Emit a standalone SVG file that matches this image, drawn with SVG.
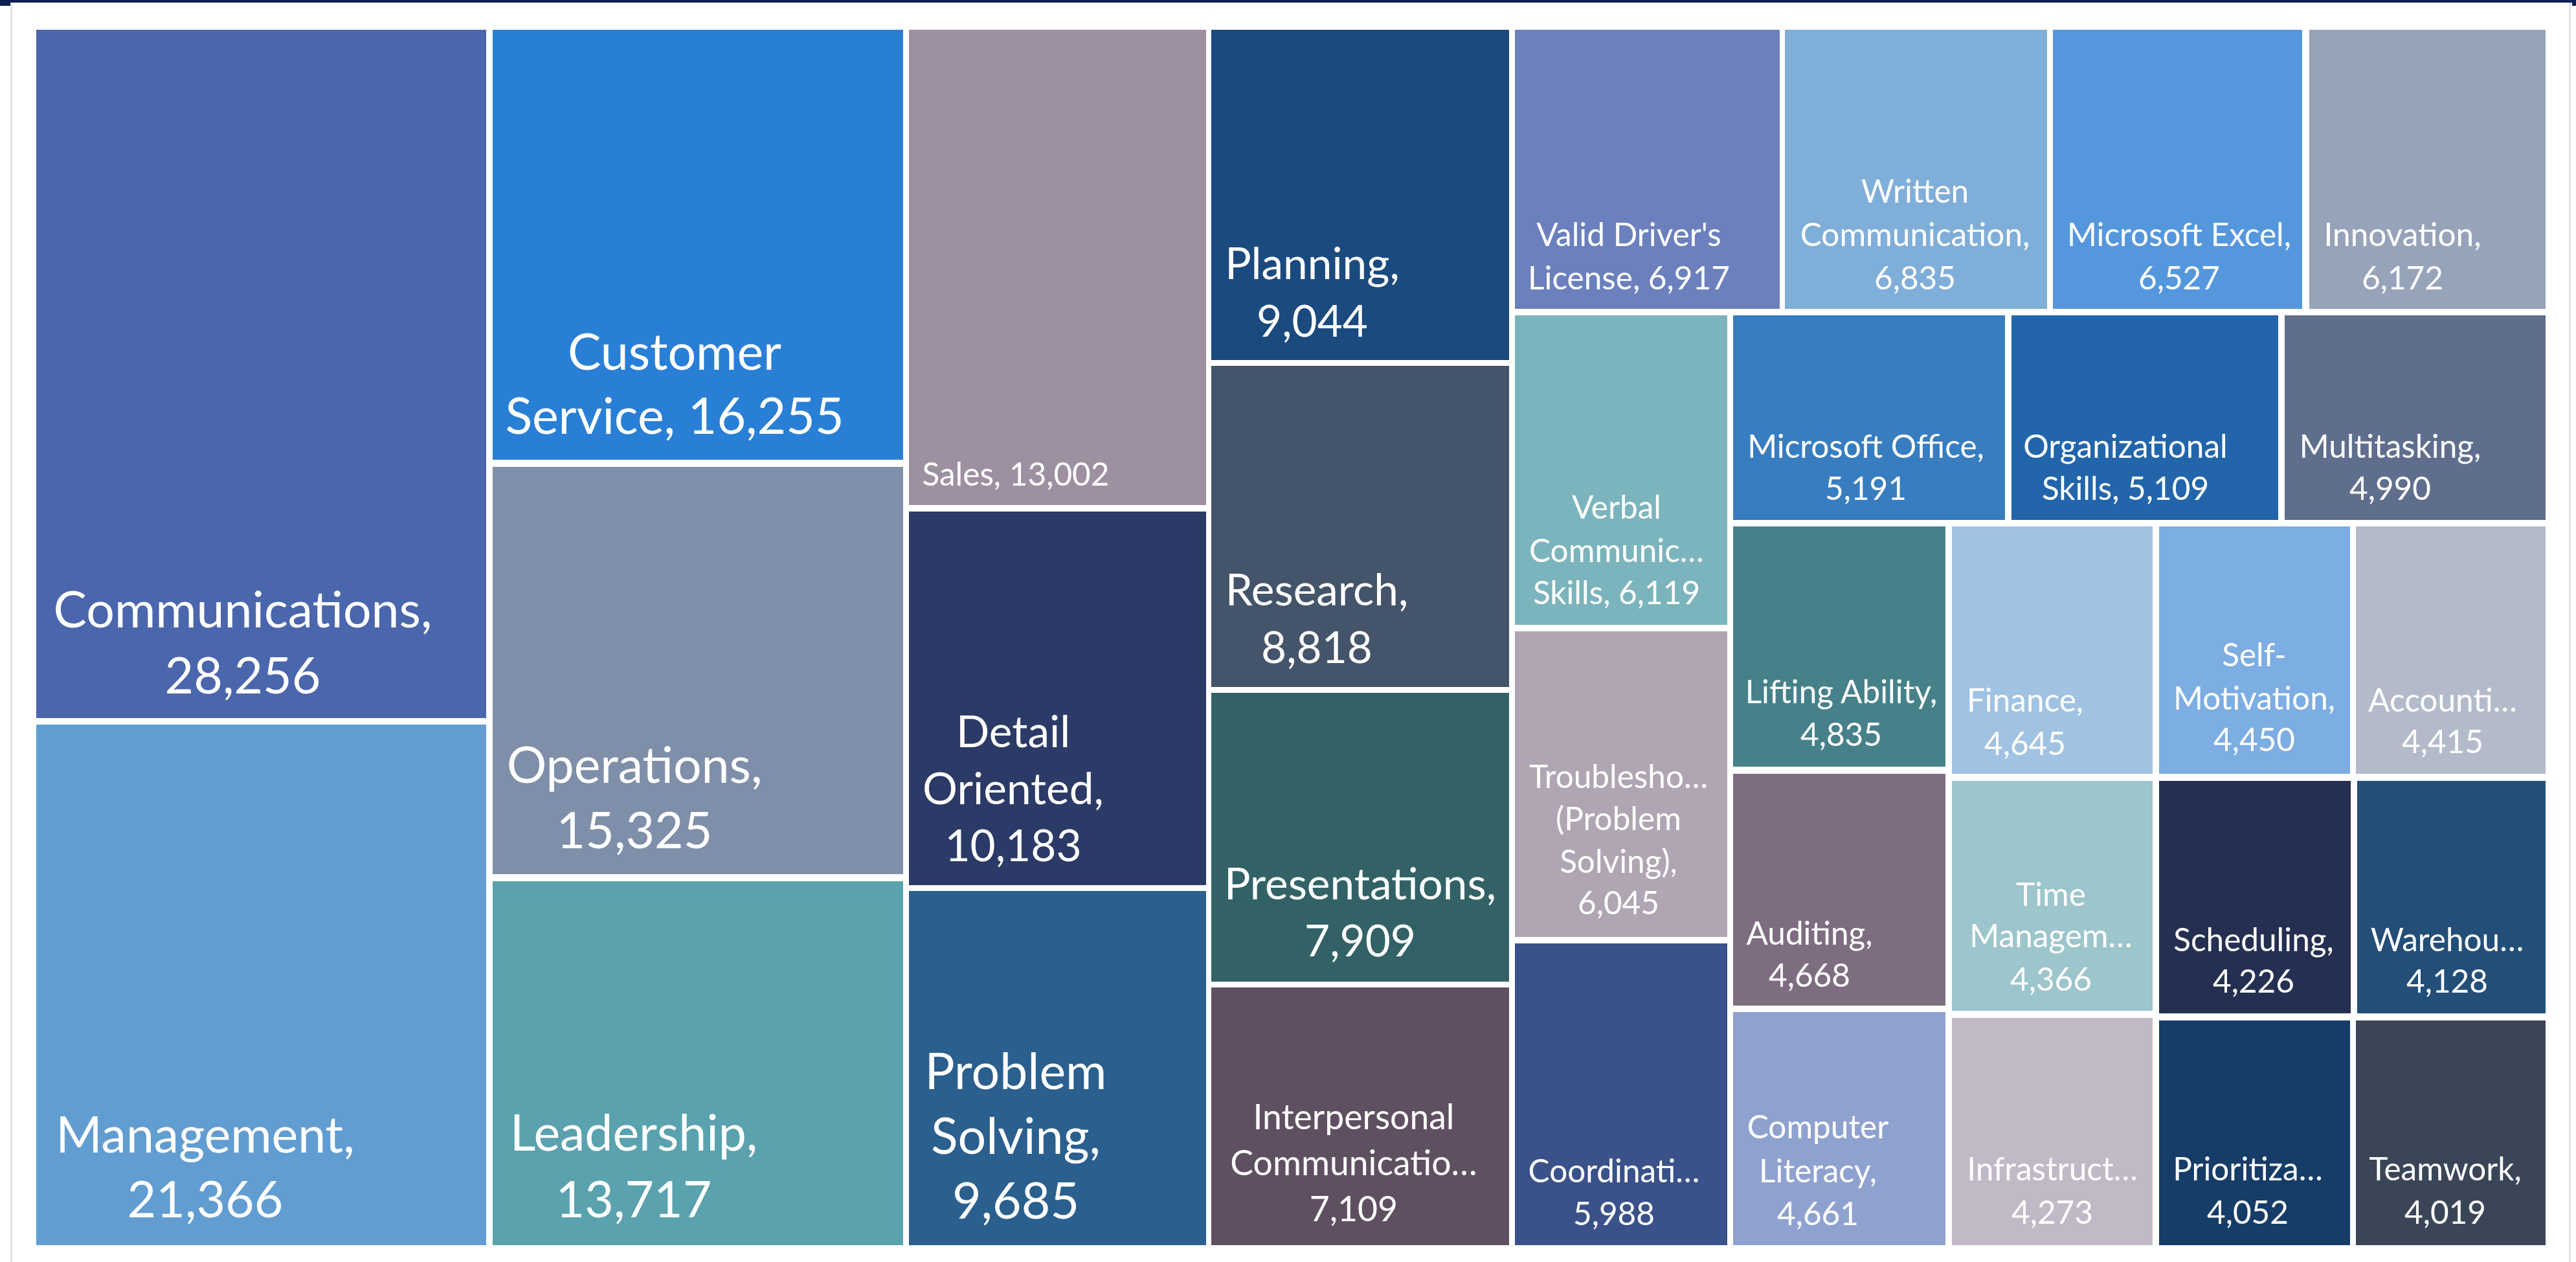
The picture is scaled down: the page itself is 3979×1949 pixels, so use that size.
<svg xmlns="http://www.w3.org/2000/svg" width="3979" height="1949" viewBox="0 0 3979 1949">
<style>
text { font-family: Lato, "Liberation Sans", sans-serif; fill: #ffffff; text-anchor: middle; }
.t1 { font-size: 77px; }
.t2 { font-size: 67.5px; }
.t3 { font-size: 49.5px; }
.t4 { font-size: 53.5px; }
</style>
<rect x="0" y="0" width="3979" height="1949" fill="#ffffff"/>
<g id="frame">
<rect x="0" y="0" width="3979" height="4" fill="#0c2052"/>
<rect x="0" y="0" width="16" height="9" fill="#0c2052"/>
<rect x="3973" y="0" width="6" height="9" fill="#0c2052"/>
<rect x="16" y="4" width="3" height="1945" fill="#e2e2e2"/>
<rect x="3968" y="4" width="3" height="1945" fill="#e2e2e2"/>
</g>
<g id="communications"><rect x="56" y="46" width="695" height="1063" fill="#4a66ac"/>
<text class="t1"><tspan x="375" y="969">Communications,</tspan><tspan x="375" y="1071">28,256</tspan></text></g>
<g id="management"><rect x="56" y="1119" width="695" height="804" fill="#629dd1"/>
<text class="t1"><tspan x="317" y="1780">Management,</tspan><tspan x="317" y="1880">21,366</tspan></text></g>
<g id="customer-service"><rect x="761" y="46" width="634" height="664" fill="#297fd5"/>
<text class="t1"><tspan x="1042" y="571">Customer</tspan><tspan x="1042" y="670">Service, 16,255</tspan></text></g>
<g id="operations"><rect x="761" y="721" width="634" height="629" fill="#7f8fa9"/>
<text class="t1"><tspan x="980" y="1209">Operations,</tspan><tspan x="980" y="1310">15,325</tspan></text></g>
<g id="leadership"><rect x="761" y="1361" width="634" height="562" fill="#5aa2ae"/>
<text class="t1"><tspan x="979" y="1777">Leadership,</tspan><tspan x="979" y="1880">13,717</tspan></text></g>
<g id="sales"><rect x="1404" y="46" width="459" height="734" fill="#9d90a0"/>
<text class="t3"><tspan x="1569" y="750">Sales, 13,002</tspan></text></g>
<g id="detail-oriented"><rect x="1404" y="790" width="459" height="577" fill="#2b3a66"/>
<text class="t2"><tspan x="1565" y="1154">Detail</tspan><tspan x="1565" y="1242">Oriented,</tspan><tspan x="1565" y="1330">10,183</tspan></text></g>
<g id="problem-solving"><rect x="1404" y="1376" width="459" height="547" fill="#2a5f8e"/>
<text class="t1"><tspan x="1569" y="1682">Problem</tspan><tspan x="1569" y="1782">Solving,</tspan><tspan x="1569" y="1882">9,685</tspan></text></g>
<g id="planning"><rect x="1871" y="46" width="460" height="510" fill="#1b4a7e"/>
<text class="t2"><tspan x="2027" y="431">Planning,</tspan><tspan x="2027" y="520">9,044</tspan></text></g>
<g id="research"><rect x="1871" y="565" width="460" height="496" fill="#44546a"/>
<text class="t2"><tspan x="2034" y="935">Research,</tspan><tspan x="2034" y="1024">8,818</tspan></text></g>
<g id="presentations"><rect x="1871" y="1070" width="460" height="446" fill="#336266"/>
<text class="t2"><tspan x="2101" y="1389">Presentations,</tspan><tspan x="2101" y="1477">7,909</tspan></text></g>
<g id="interpersonal-communication"><rect x="1871" y="1525" width="460" height="398" fill="#5f5061"/>
<text class="t4"><tspan x="2091" y="1744">Interpersonal</tspan><tspan x="2091" y="1815">Communicatio…</tspan><tspan x="2091" y="1886">7,109</tspan></text></g>
<g id="valid-drivers-license"><rect x="2340" y="46" width="409" height="431" fill="#6b80bd"/>
<text class="t3"><tspan x="2516" y="380">Valid Driver's</tspan><tspan x="2516" y="447">License, 6,917</tspan></text></g>
<g id="written-communication"><rect x="2757" y="46" width="405" height="431" fill="#7faed9"/>
<text class="t3"><tspan x="2958" y="313">Written</tspan><tspan x="2958" y="380">Communication,</tspan><tspan x="2958" y="447">6,835</tspan></text></g>
<g id="microsoft-excel"><rect x="3171" y="46" width="385" height="431" fill="#5597dd"/>
<text class="t3"><tspan x="3366" y="380">Microsoft Excel,</tspan><tspan x="3366" y="447">6,527</tspan></text></g>
<g id="innovation"><rect x="3567" y="46" width="365" height="431" fill="#97a3b9"/>
<text class="t3"><tspan x="3711" y="380">Innovation,</tspan><tspan x="3711" y="447">6,172</tspan></text></g>
<g id="verbal-communication-skills"><rect x="2340" y="487" width="328" height="478" fill="#7bb4bd"/>
<text class="t3"><tspan x="2497" y="801">Verbal</tspan><tspan x="2497" y="868">Communic…</tspan><tspan x="2497" y="933">Skills, 6,119</tspan></text></g>
<g id="troubleshooting"><rect x="2340" y="975" width="328" height="472" fill="#b0a5b2"/>
<text class="t3"><tspan x="2500" y="1217">Troublesho…</tspan><tspan x="2500" y="1282">(Problem</tspan><tspan x="2500" y="1348">Solving),</tspan><tspan x="2500" y="1412">6,045</tspan></text></g>
<g id="coordination"><rect x="2340" y="1457" width="328" height="466" fill="#3a5189"/>
<text class="t3"><tspan x="2493" y="1826">Coordinati…</tspan><tspan x="2493" y="1892">5,988</tspan></text></g>
<g id="microsoft-office"><rect x="2677" y="487" width="420" height="316" fill="#377dbf"/>
<text class="t3"><tspan x="2882" y="707">Microsoft Office,</tspan><tspan x="2882" y="772">5,191</tspan></text></g>
<g id="organizational-skills"><rect x="3107" y="487" width="412" height="316" fill="#2265aa"/>
<text class="t3"><tspan x="3283" y="707">Organizational</tspan><tspan x="3283" y="772">Skills, 5,109</tspan></text></g>
<g id="multitasking"><rect x="3529" y="487" width="403" height="316" fill="#5f6e8d"/>
<text class="t3"><tspan x="3692" y="707">Multitasking,</tspan><tspan x="3692" y="772">4,990</tspan></text></g>
<g id="lifting-ability"><rect x="2677" y="813" width="328" height="371" fill="#46818a"/>
<text class="t3"><tspan x="2844" y="1086">Lifting Ability,</tspan><tspan x="2844" y="1152">4,835</tspan></text></g>
<g id="auditing"><rect x="2677" y="1195" width="328" height="358" fill="#7e6d80"/>
<text class="t3"><tspan x="2795" y="1459">Auditing,</tspan><tspan x="2795" y="1524">4,668</tspan></text></g>
<g id="computer-literacy"><rect x="2677" y="1563" width="328" height="360" fill="#8fa2cf"/>
<text class="t3"><tspan x="2808" y="1758">Computer</tspan><tspan x="2808" y="1826">Literacy,</tspan><tspan x="2808" y="1892">4,661</tspan></text></g>
<g id="finance"><rect x="3015" y="813" width="310" height="382" fill="#a0c2e3"/>
<text class="t3"><tspan x="3128" y="1099">Finance,</tspan><tspan x="3128" y="1166">4,645</tspan></text></g>
<g id="time-management"><rect x="3015" y="1206" width="310" height="355" fill="#9cc5cc"/>
<text class="t3"><tspan x="3168" y="1399">Time</tspan><tspan x="3168" y="1463">Managem…</tspan><tspan x="3168" y="1530">4,366</tspan></text></g>
<g id="infrastructure"><rect x="3015" y="1572" width="310" height="351" fill="#c1b9c6"/>
<text class="t3"><tspan x="3170" y="1823">Infrastruct…</tspan><tspan x="3170" y="1890">4,273</tspan></text></g>
<g id="self-motivation"><rect x="3335" y="813" width="295" height="382" fill="#7cade3"/>
<text class="t3"><tspan x="3482" y="1029">Self-</tspan><tspan x="3482" y="1096">Motivation,</tspan><tspan x="3482" y="1160">4,450</tspan></text></g>
<g id="scheduling"><rect x="3335" y="1206" width="296" height="359" fill="#242f52"/>
<text class="t3"><tspan x="3481" y="1469">Scheduling,</tspan><tspan x="3481" y="1533">4,226</tspan></text></g>
<g id="prioritization"><rect x="3335" y="1576" width="295" height="347" fill="#163c68"/>
<text class="t3"><tspan x="3472" y="1823">Prioritiza…</tspan><tspan x="3472" y="1890">4,052</tspan></text></g>
<g id="accounting"><rect x="3639" y="813" width="293" height="382" fill="#b3bbcb"/>
<text class="t3"><tspan x="3773" y="1099">Accounti…</tspan><tspan x="3773" y="1163">4,415</tspan></text></g>
<g id="warehouse"><rect x="3641" y="1206" width="291" height="359" fill="#224e78"/>
<text class="t3"><tspan x="3780" y="1469">Warehou…</tspan><tspan x="3780" y="1533">4,128</tspan></text></g>
<g id="teamwork"><rect x="3639" y="1576" width="293" height="347" fill="#3a4558"/>
<text class="t3"><tspan x="3777" y="1823">Teamwork,</tspan><tspan x="3777" y="1890">4,019</tspan></text></g>
</svg>
